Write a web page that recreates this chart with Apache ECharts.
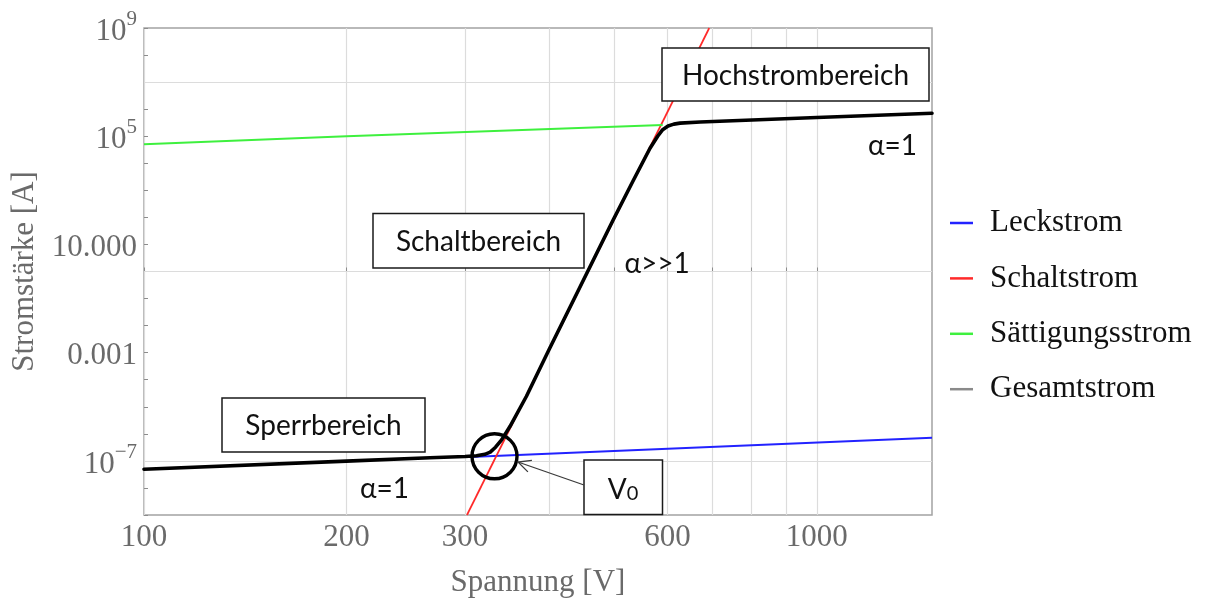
<!DOCTYPE html>
<html>
<head>
<meta charset="utf-8">
<script src="https://cdn.jsdelivr.net/npm/echarts@6/dist/echarts.min.js"></script>
<style>
html,body{margin:0;padding:0;background:#fff;}
#chart{width:1211px;height:603px;}
</style>
</head>
<body>
<div id="chart"></div>
<script>
// ---- data (Spannung in V, Stromstärke in A) ----
const xTickVoltages = [100, 200, 300, 400, 500, 600, 700, 800, 900, 1000];
const xLabelVoltages = [100, 200, 300, 600, 1000];
const xMaxVoltage = 1483;
const yTickExponents = [-9, -8, -7, -6, -5, -4, -3, -2, -1, 0, 1, 2, 3, 4, 5, 6, 7, 8, 9];
const yLabelExponents = [-7, -3, 1, 5, 9];
const yLabelTexts = ['{b|10}{s|\u22127}', '{b|0.001}', '{b|10.000}', '{b|10}{s|5}', '{b|10}{s|9}'];
const yGridCurrents = [1e-7, 1, 1e7];

const leakV = [305, 415, 1483];
const leakI = [1.4e-7, 1.92e-7, 7.2e-7];

const switchV = [302, 692];
const switchI = [1e-9, 1e9];

const satV = [100, 200, 590];
const satI = [5.0e4, 1.0e5, 2.6e5];

const totalV = [100, 200, 266, 300, 312, 321, 327, 333, 340, 350, 370, 400, 498, 534, 565, 580, 590, 601, 613, 626, 671, 1000, 1483];
const totalI = [4.9e-8, 9.8e-8, 1.3e-7, 1.45e-7, 1.55e-7, 1.75e-7, 2.1e-7, 3.2e-7, 6.0e-7, 1.9e-6, 2.4e-5, 1.3e-3, 80, 2.4e3, 3.6e4, 1.0e5, 1.75e5, 2.4e5, 2.8e5, 3.05e5, 3.36e5, 4.9e5, 7.05e5];

const seriesNames = ['Leckstrom', 'Schaltstrom', 'Sättigungsstrom', 'Gesamtstrom'];

// ---- build ----
const L = Math.log10;
function pairs(vs, is) { return vs.map((v, k) => [L(v), L(is[k])]); }

const serif = 'Liberation Serif';
const sans = 'Lato';
const grayText = '#6a6a6a';

const chart = echarts.init(document.getElementById('chart'), null, {renderer: 'canvas'});

const option = {
  animation: false,
  backgroundColor: '#ffffff',
  grid: {left: 144, right: 279, top: 28, bottom: 88, show: true, borderColor: '#a3a3a3', borderWidth: 1.5, backgroundColor: 'transparent'},
  xAxis: {
    type: 'value', min: L(100), max: L(xMaxVoltage),
    name: 'Spannung [V]', nameLocation: 'middle', nameGap: 52,
    nameTextStyle: {fontFamily: serif, fontSize: 31, color: grayText},
    axisLine: {show: false},
    axisTick: {show: true, inside: true, length: 4, lineStyle: {color: '#8c8c8c', width: 1}, customValues: xTickVoltages.map(L)},
    axisLabel: {customValues: xLabelVoltages.map(L), formatter: v => String(Math.round(Math.pow(10, v))), fontFamily: serif, fontSize: 31, color: grayText, margin: 7},
    splitLine: {show: true, lineStyle: {color: '#dcdcdc', width: 1.2}}
  },
  yAxis: {
    type: 'value', min: -9, max: 9,
    name: 'Stromstärke [A]', nameLocation: 'middle', nameGap: 101,
    nameTextStyle: {fontFamily: serif, fontSize: 31, color: grayText},
    axisLine: {show: false},
    axisTick: {show: true, inside: true, length: 4, lineStyle: {color: '#8c8c8c', width: 1}, customValues: yTickExponents},
    axisLabel: {
      customValues: yLabelExponents,
      formatter: v => { const k = yLabelExponents.indexOf(Math.round(v)); return k >= 0 ? yLabelTexts[k] : ''; },
      margin: 7,
      rich: {
        b: {fontFamily: serif, fontSize: 31, color: grayText, lineHeight: 38, verticalAlign: 'bottom'},
        s: {fontFamily: serif, fontSize: 21, color: grayText, lineHeight: 21, verticalAlign: 'top'}
      }
    },
    splitLine: {show: false}
  },
  legend: {
    orient: 'vertical', left: 945, top: 201,
    icon: 'rect', itemWidth: 23, itemHeight: 2.5, itemGap: 21.4,
    textStyle: {fontFamily: serif, fontSize: 31, color: '#111', lineHeight: 34, padding: [0, 0, 0, 12]},
    data: [
      {name: seriesNames[0]},
      {name: seriesNames[1]},
      {name: seriesNames[2]},
      {name: seriesNames[3], itemStyle: {color: '#8a8a8a'}}
    ]
  },
  series: [
    {
      name: 'grid', type: 'line', data: [], silent: true,
      markLine: {silent: true, symbol: 'none', z: 1, label: {show: false},
        lineStyle: {color: '#dcdcdc', width: 1.2, type: 'solid'},
        data: yGridCurrents.map(c => ({yAxis: L(c)}))}
    },
    {name: seriesNames[0], type: 'line', data: pairs(leakV, leakI), showSymbol: false, symbol: 'none',
      lineStyle: {color: '#2222ff', width: 2}, itemStyle: {color: '#2222ff'}},
    {name: seriesNames[1], type: 'line', data: pairs(switchV, switchI), showSymbol: false, symbol: 'none',
      lineStyle: {color: '#ff2a2a', width: 1.7}, itemStyle: {color: '#ff2a2a'}},
    {name: seriesNames[2], type: 'line', data: pairs(satV, satI), showSymbol: false, symbol: 'none',
      lineStyle: {color: '#3ef03e', width: 2}, itemStyle: {color: '#3ef03e'}},
    {name: seriesNames[3], type: 'line', data: pairs(totalV, totalI), showSymbol: false, symbol: 'none',
      lineStyle: {color: '#000000', width: 3.6, join: 'round', cap: 'round'}, itemStyle: {color: '#000000'}}
  ]
};

// annotation boxes (layout in pixels)
const boxStyle = {fill: '#ffffff', stroke: '#1a1a1a', lineWidth: 1.5};
const annFont = {fontFamily: sans, fontSize: 28, fill: '#111'};
function box(x, y, w, h, text) {
  return [
    {type: 'rect', z: 100, shape: {x: x, y: y, width: w, height: h}, style: boxStyle},
    {type: 'text', z: 101, style: Object.assign({text: text, x: x + w / 2, y: y + h / 2 + 1, align: 'center', verticalAlign: 'middle'}, annFont)}
  ];
}
function label(x, y, text) {
  return {type: 'text', z: 101, style: Object.assign({text: text, x: x, y: y, align: 'left', verticalAlign: 'middle'}, annFont)};
}
const tip = [518, 462], tail = [584, 485];
const ang = Math.atan2(tail[1] - tip[1], tail[0] - tip[0]);
const hl = 14, ha = 0.45;
const head = [
  [tip[0] + hl * Math.cos(ang - ha), tip[1] + hl * Math.sin(ang - ha)],
  tip,
  [tip[0] + hl * Math.cos(ang + ha), tip[1] + hl * Math.sin(ang + ha)]
];

option.graphic = [].concat(
  box(662, 48, 267, 53, 'Hochstrombereich'),
  box(373, 213.5, 211, 54.5, 'Schaltbereich'),
  box(222, 398, 203, 54, 'Sperrbereich'),
  [
    {type: 'rect', z: 100, shape: {x: 584, y: 460, width: 78.5, height: 54.5}, style: boxStyle},
    {type: 'text', z: 101, style: {text: '{v|V}{s|0}', x: 623, y: 489, align: 'center', verticalAlign: 'middle',
      rich: {v: {fontFamily: sans, fontSize: 28, fill: '#111', lineHeight: 30, verticalAlign: 'bottom'},
             s: {fontFamily: sans, fontSize: 20, fill: '#111', lineHeight: 18, verticalAlign: 'bottom'}}}},
    label(360, 489, 'α=1'),
    label(868, 145.5, 'α=1'),
    label(624.5, 263.5, 'α>>1'),
    {type: 'circle', z: 102, shape: {cx: 494.5, cy: 456.3, r: 22.5}, style: {fill: 'none', stroke: '#000', lineWidth: 3.4}},
    {type: 'line', z: 102, shape: {x1: tail[0], y1: tail[1], x2: tip[0], y2: tip[1]}, style: {stroke: '#3a3a3a', lineWidth: 1.3}},
    {type: 'polyline', z: 102, shape: {points: head}, style: {stroke: '#3a3a3a', lineWidth: 1.3, fill: 'none'}}
  ]
);

chart.setOption(option);
</script>
</body>
</html>
